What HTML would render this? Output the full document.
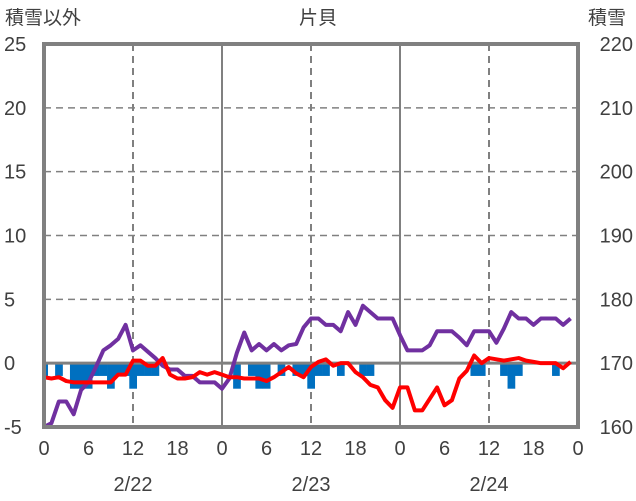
<!DOCTYPE html>
<html><head><meta charset="utf-8"><style>
html,body{margin:0;padding:0;background:#fff;}
svg{display:block;font-family:"Liberation Sans","Noto Sans CJK JP",sans-serif;}
</style></head><body>
<svg id="chart" width="636" height="501">
<text x="5" y="24" font-size="19" fill="#404040">積雪以外</text>
<text x="318" y="24" font-size="19" fill="#404040" text-anchor="middle">片貝</text>
<text x="588" y="24" font-size="19" fill="#404040">積雪</text>
<g id="grid"></g>
<g id="bars"></g>
<g id="lines"></g>
<g id="frame"></g>
<g id="ticks"></g>
</svg>
<script>
const leftTicks = [-5,0,5,10,15,20,25];
const rightTicks = [160,170,180,190,200,210,220];
const hourLabels = ["0","6","12","18","0","6","12","18","0","6","12","18","0"];
const dateLabels = ["2/22","2/23","2/24"];
// hourly bar values (left axis), index = hour
const barValues = [-1,0,-1,0,-2,-2,-2,-1,-1,-2,-1,-1,-2,-1,-1,-1,0,0,0,0,0,0,0,0,
 0,0,-2,0,-1,-2,-2,0,-1,0,-1,-1,-2,-1,-1,0,-1,0,0,-1,-1,0,0,0,
 0,0,0,0,0,0,0,0,0,0,-1,-1,0,0,-1,-2,-1,0,0,0,0,-1,0,0];
// red line (left axis)
const redValues = [-1.1,-1.2,-1.1,-1.4,-1.5,-1.5,-1.5,-1.5,-1.5,-1.5,-0.9,-0.9,0.2,0.2,-0.2,-0.2,0.4,-0.9,-1.2,-1.2,-1.1,-0.7,-0.9,-0.7,
 -0.9,-1.1,-1.1,-1.2,-1.2,-1.2,-1.4,-1.1,-0.7,-0.3,-0.8,-1.1,-0.3,0.1,0.3,-0.2,0,0,-0.7,-1.1,-1.7,-1.9,-2.9,-3.5,
 -1.9,-1.9,-3.7,-3.7,-2.8,-1.9,-3.3,-2.9,-1.2,-0.6,0.6,0,0.4,0.3,0.2,0.3,0.4,0.2,0.1,0,0,0,-0.4,0.1];
// purple line: snow depth (right axis)
const snowValues = [160,160.6,164,164,162,165.8,167,169.4,172,172.8,173.8,176,172,172.8,171.8,170.8,169.6,169,169,168,168,167,167,167,
 166,167.6,171.6,174.8,172,173,172,173,172,172.8,173,175.6,177,177,176,176,175,178,176,179,178,177,177,177,
 174.4,172,172,172,172.8,175,175,175,174,172.8,175,175,175,173.2,175.4,178,177,177,176,177,177,177,176,177];

const NS="http://www.w3.org/2000/svg";
const X0=44,X1=578,Y0=44,Y1=427;
const x = h => X0 + (X1-X0)*h/72;
const yL = v => Y1 - (Y1-Y0)*(v+5)/30;
const yR = v => Y1 - (Y1-Y0)*(v-160)/60;
function mk(tag, parent, attrs){const e=document.createElementNS(NS,tag);for(const k in attrs)e.setAttribute(k,attrs[k]);document.getElementById(parent).appendChild(e);return e;}

const defs=document.createElementNS(NS,'defs');
defs.innerHTML='<clipPath id="pc"><rect x="44" y="44" width="534" height="383"/></clipPath>';
document.getElementById('chart').prepend(defs);
document.getElementById('bars').setAttribute('clip-path','url(#pc)');
document.getElementById('lines').setAttribute('clip-path','url(#pc)');

leftTicks.forEach(t=>{ if(t>0&&t<25){const l=mk('line','grid',{x1:X0,x2:X1,y1:yL(t),y2:yL(t),stroke:'#808080','stroke-width':1.5,'stroke-dasharray':'7,5'});

}});
[12,36,60].forEach(h=>{const l=mk('line','grid',{x1:x(h),x2:x(h),y1:Y0,y2:Y1,stroke:'#808080','stroke-width':2,'stroke-dasharray':'7,5'});

});
[24,48].forEach(h=>{const l=mk('line','grid',{x1:x(h),x2:x(h),y1:Y0,y2:Y1,stroke:'#808080','stroke-width':2});

});

const bw=(X1-X0)/72;
barValues.forEach((v,h)=>{ if(v!==0){const r=mk('rect','bars',{x:x(h)-bw/2,y:yL(0),width:bw+0.3,height:yL(v)-yL(0),fill:'#0070C0'});

}});

const z=mk('line','grid',{x1:X0,x2:X1,y1:yL(0),y2:yL(0),stroke:'#808080','stroke-width':3});


document.getElementById('chart').insertBefore(document.getElementById('grid'),document.getElementById('bars'));
document.getElementById('lines').before(z);

const pr=mk('polyline','lines',{points:snowValues.map((v,h)=>x(h)+','+yR(v)).join(' '),fill:'none',stroke:'#7030A0','stroke-width':4,'stroke-linejoin':'round'});


const rd=mk('polyline','lines',{points:redValues.map((v,h)=>x(h)+','+yL(v)).join(' '),fill:'none',stroke:'#FF0000','stroke-width':4,'stroke-linejoin':'round'});



const fr=mk('rect','frame',{x:X0,y:Y0,width:X1-X0,height:Y1-Y0,fill:'none',stroke:'#808080','stroke-width':4});



leftTicks.forEach(t=>{const e=mk('text','ticks',{x:4,y:yL(t)+7,'font-size':20,fill:'#404040'});e.textContent=t;

});
rightTicks.forEach(t=>{const e=mk('text','ticks',{x:633,y:yR(t)+7,'font-size':20,fill:'#404040','text-anchor':'end'});e.textContent=t;

});
hourLabels.forEach((t,i)=>{const e=mk('text','ticks',{x:x(i*6),y:455,'font-size':20,fill:'#404040','text-anchor':'middle'});e.textContent=t;

});
dateLabels.forEach((t,i)=>{const e=mk('text','ticks',{x:x(12+24*i),y:491,'font-size':20,fill:'#404040','text-anchor':'middle'});e.textContent=t;

});
</script>
</body></html>
